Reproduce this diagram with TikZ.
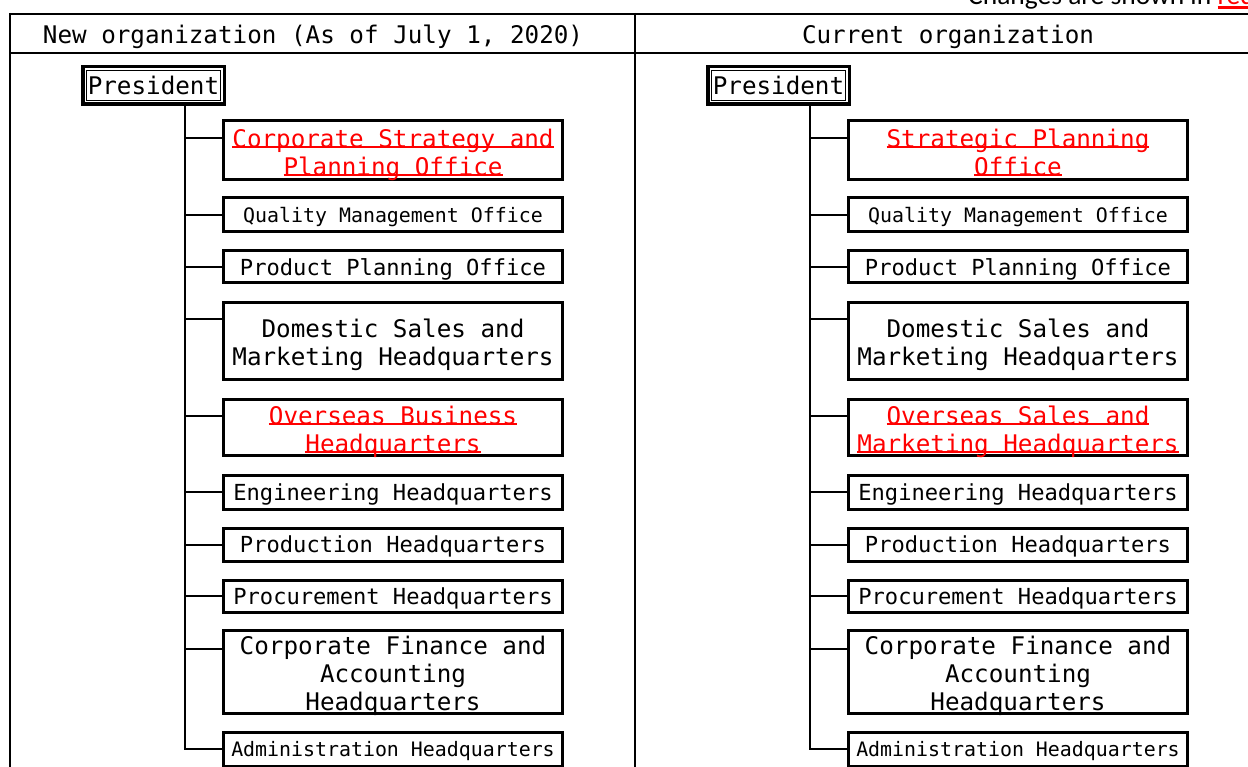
\documentclass[tikz,border=0pt]{standalone}
\usepackage{fontspec}
\newfontfamily\gfont{DejaVu Sans Mono}
\newfontfamily\pfont{Carlito}
\usetikzlibrary{calc}
\newcommand\redul[2][-1pt]{\setbox0\hbox{#2}\rlap{\rule[#1]{\wd0}{2.5pt}}\box0}
\newcommand\fL{\gfont\fontsize{24.25pt}{28pt}\selectfont}
\newcommand\fM{\gfont\fontsize{22.1pt}{26pt}\selectfont}
\newcommand\fS{\gfont\fontsize{19.9pt}{24pt}\selectfont}
\tikzset{
  box/.style={draw, line width=3pt, inner sep=0pt, outer sep=0pt, minimum width=339pt, anchor=north west, fill=white},
  btext/.style={inner sep=0pt, align=center},
  presbox/.style={draw, line width=3.5pt, inner sep=0pt, outer sep=0pt, minimum width=141.5pt, minimum height=37.5pt, fill=white, font=\fL},
  conn/.style={line width=2pt},
  gridline/.style={line width=2.5pt},
  chg/.style={text=red}
}
\newcommand\orgcol[4]{%
\begin{scope}[xshift=#2]
  \coordinate (#1-t) at (185,0);
  \node[presbox] (#1-pres) at (153.5,85.5) {President};
  \draw[line width=1pt] ($(#1-pres.north west)+(3.75,3.75)$) rectangle ($(#1-pres.south east)+(-3.75,-3.75)$);
  \node[box, minimum height=59pt] (#1-cs) at (223.5,121) {};
  \node[box, minimum height=34pt] (#1-qm) at (223.5,198) {};
  \node[box, minimum height=32pt] (#1-pp) at (223.5,251) {};
  \node[box, minimum height=76pt] (#1-ds) at (223.5,303) {};
  \node[box, minimum height=56pt] (#1-ob) at (223.5,399) {};
  \node[box, minimum height=34pt] (#1-en) at (223.5,475) {};
  \node[box, minimum height=33pt] (#1-pr) at (223.5,528) {};
  \node[box, minimum height=32pt] (#1-pc) at (223.5,580) {};
  \node[box, minimum height=83pt] (#1-cf) at (223.5,630) {};
  \node[box, minimum height=34pt] (#1-ad) at (223.5,732) {};
  \node[btext, chg, font=\fL] (#1-cs-t) at ($(#1-cs.center)+(0,4)$) {#3};
  \node[btext, font=\fS] (#1-qm-t) at ($(#1-qm.center)+(0,2)$) {Quality Management Office};
  \node[btext, font=\fM] (#1-pp-t) at ($(#1-pp.center)+(0,2)$) {Product Planning Office};
  \node[btext, font=\fL] (#1-ds-t) at ($(#1-ds.center)+(0,4)$) {Domestic Sales and\\Marketing Headquarters};
  \node[btext, chg, font=\fL] (#1-ob-t) at ($(#1-ob.center)+(0,4.5)$) {#4};
  \node[btext, font=\fM] (#1-en-t) at ($(#1-en.center)+(0,2)$) {Engineering Headquarters};
  \node[btext, font=\fM] (#1-pr-t) at ($(#1-pr.center)+(0,2)$) {Production Headquarters};
  \node[btext, font=\fM] (#1-pc-t) at ($(#1-pc.center)+(0,2)$) {Procurement Headquarters};
  \node[btext, font=\fL] (#1-cf-t) at ($(#1-cf.center)+(0,4)$) {Corporate Finance and\\Accounting\\Headquarters};
  \node[btext, font=\fS] (#1-ad-t) at ($(#1-ad.center)+(0,2)$) {Administration Headquarters};
  \coordinate (#1-csin) at ($(#1-cs.north west)+(0,17)$);
  \coordinate (#1-dsin) at ($(#1-ds.north west)+(0,16)$);
  \coordinate (#1-obin) at ($(#1-ob.north west)+(0,17)$);
  \coordinate (#1-cfin) at ($(#1-cf.north west)+(0,19)$);
  \draw[conn] (#1-pres.south -| #1-t) |- (#1-ad.west);
  \foreach \c in {csin,dsin,obin,cfin}{\draw[conn] (#1-\c -| #1-t) -- (#1-\c);}
  \foreach \c in {qm,pp,en,pr,pc}{\draw[conn] (#1-\c.west -| #1-t) -- (#1-\c.west);}
\end{scope}}
\begin{document}
\begin{tikzpicture}[x=1pt,y=-1pt]
  \useasboundingbox (0,0) rectangle (1248,767);
  \clip (0,0) rectangle (1248,767);
  \fill[white] (0,0) rectangle (1248,767);
  % table
  \draw[gridline] (10,14) -- (1270,14);
  \draw[gridline] (10,53) -- (1270,53);
  \draw[gridline] (10,13) -- (10,790);
  \draw[gridline] (635,13) -- (635,790);
  \node[anchor=base, inner sep=0pt, font=\fL] (hL) at (313,44) {New organization (As of July 1, 2020)};
  \node[anchor=base, inner sep=0pt, font=\fL] (hR) at (948,44) {Current organization};
  \node[anchor=base west, inner sep=0pt] (note) at (968,5) {\pfont\fontsize{27.5pt}{30pt}\selectfont Changes are shown in {\color{red}\redul[-4pt]{red}}};
  \orgcol{L}{0pt}{\redul{Corporate Strategy and}\\\redul{Planning Office}}{\redul{Overseas Business}\\\redul{Headquarters}}
  \orgcol{R}{625pt}{\redul{Strategic Planning}\\\redul{Office}\vphantom{g}}{\redul{Overseas Sales and}\\\redul{Marketing Headquarters}}
\end{tikzpicture}
\end{document}
